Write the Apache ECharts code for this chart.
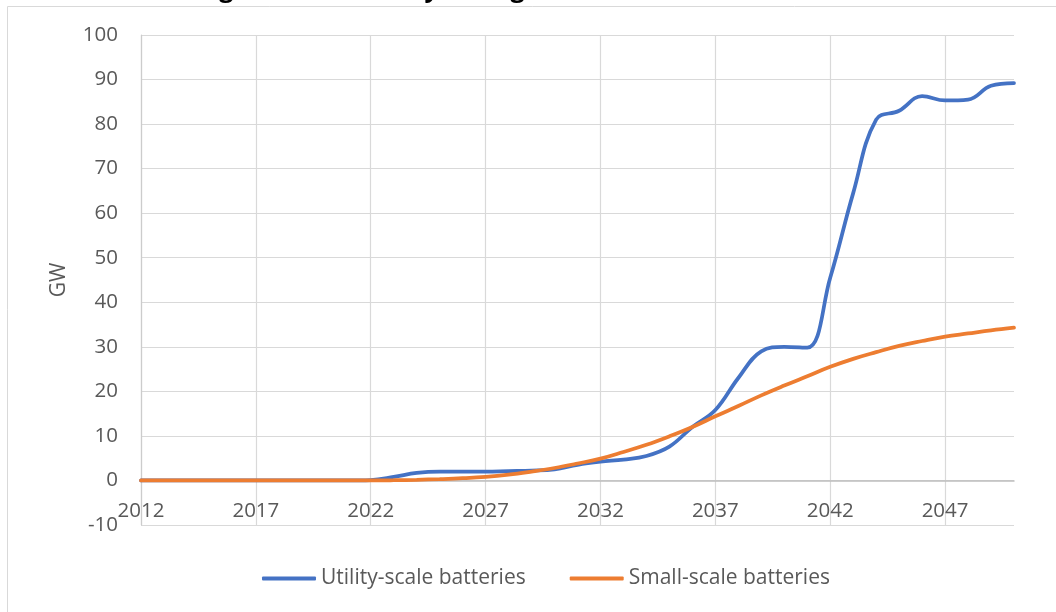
<!DOCTYPE html>
<html>
<head>
<meta charset="utf-8">
<title>Battery storage forecast</title>
<script src="https://cdn.jsdelivr.net/npm/echarts@6/dist/echarts.min.js"></script>
<style>
  html, body { margin: 0; padding: 0; background: #fff; }
  #chart { width: 1056px; height: 612px; }
</style>
</head>
<body>
<div id="chart"></div>
<script>
const years = [
  '2012', '2013', '2014', '2015', '2016', '2017', '2018', '2019', '2020', '2021',
  '2022', '2023', '2024', '2025', '2026', '2027', '2028', '2029', '2030', '2031',
  '2032', '2033', '2034', '2035', '2036', '2037', '2038', '2039', '2040', '2041',
  '2042', '2043', '2044', '2045', '2046', '2047', '2048', '2049', '2050'
]
// GW
const utilityScale = [
  0, 0, 0, 0, 0, 0, 0, 0, 0, 0,
  0.1, 0.8, 1.7, 2.0, 2.0, 2.0, 2.1, 2.2, 2.5, 3.5,
  4.2, 4.7, 5.5, 7.6, 12.0, 15.8, 23.0, 29.0, 30.0, 29.8,
  45.5, 64.5, 81.0, 83.0, 86.3, 85.3, 85.5, 88.6, 89.2
]
const smallScale = [
  0, 0, 0, 0, 0, 0, 0, 0, 0, 0,
  0, 0.05, 0.15, 0.3, 0.5, 0.8, 1.3, 2.0, 2.8, 3.8,
  4.9, 6.4, 8.0, 9.9, 12.0, 14.4, 16.7, 19.1, 21.3, 23.4,
  25.5, 27.3, 28.8, 30.2, 31.3, 32.3, 33.0, 33.7, 34.3
]

const font = 'Open Sans'
const labelColor = '#595959'
const gridColor = '#d9d9d9'

const chart = echarts.init(document.getElementById('chart'))
chart.setOption({
  animation: false,
  textStyle: { fontFamily: font },
  title: {
    text: 'Chart 2: Forecast growth in battery storage in India',
    left: 2,
    top: -23,
    padding: 0,
    textStyle: { fontFamily: font, fontSize: 25, fontWeight: 'bold', color: '#000' }
  },
  graphic: [{
    type: 'rect',
    shape: { x: 7.5, y: 6.5, width: 1200, height: 800 },
    style: { fill: 'none', stroke: gridColor, lineWidth: 1 },
    silent: true
  }],
  grid: {
    left: 141,
    right: 42,
    top: 35,
    bottom: 87
  },
  legend: {
    left: 257,
    top: 563,
    icon: 'roundRect',
    itemWidth: 54,
    itemHeight: 4,
    itemGap: 44,
    textStyle: { fontFamily: font, fontSize: 21, color: labelColor },
    data: ['Utility-scale batteries', 'Small-scale batteries']
  },
  xAxis: {
    type: 'category',
    data: years,
    boundaryGap: false,
    axisLine: { onZero: true, lineStyle: { color: '#bfbfbf', width: 1.5 } },
    axisTick: { show: false },
    axisLabel: {
      interval: 4,
      margin: -24,
      hideOverlap: false,
      fontFamily: font,
      fontSize: 20.5,
      color: labelColor
    },
    splitLine: { show: true, interval: 4, lineStyle: { color: gridColor, width: 1.2 } }
  },
  yAxis: {
    type: 'value',
    min: -10,
    max: 100,
    interval: 10,
    name: 'GW',
    nameLocation: 'middle',
    nameGap: 71,
    nameTextStyle: { fontFamily: font, fontSize: 21, color: labelColor },
    axisLine: { show: true, lineStyle: { color: '#cccccc', width: 1.2 } },
    axisTick: { show: false },
    axisLabel: { margin: 23, fontFamily: font, fontSize: 20.5, color: labelColor },
    splitLine: { lineStyle: { color: gridColor, width: 1.2 } }
  },
  series: [{
    name: 'Utility-scale batteries',
    type: 'line',
    data: utilityScale,
    smooth: 0.4,
    symbol: 'none',
    lineStyle: { color: '#4472c4', width: 3.75, cap: 'round' },
    itemStyle: { color: '#4472c4' }
  }, {
    name: 'Small-scale batteries',
    type: 'line',
    data: smallScale,
    smooth: 0.4,
    symbol: 'none',
    lineStyle: { color: '#ed7d31', width: 3.75, cap: 'round' },
    itemStyle: { color: '#ed7d31' }
  }]
})
</script>
</body>
</html>
